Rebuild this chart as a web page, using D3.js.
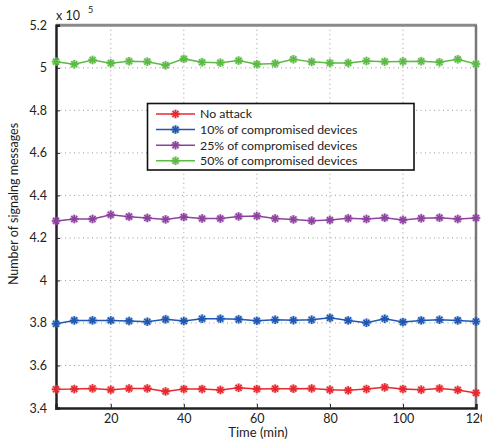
<!DOCTYPE html>
<html><head><meta charset="utf-8">
<script src="https://cdn.jsdelivr.net/npm/d3@7"></script>
<style>body{margin:0;background:#fff}svg{display:block}text{font-family:Lato,"Open Sans",sans-serif;fill:#222}</style>
</head><body><svg id="c" width="482" height="443"></svg>
<script>
const times = [5,10,15,20,25,30,35,40,45,50,55,60,65,70,75,80,85,90,95,100,105,110,115,120];
const noAttack = [3.488,3.489,3.492,3.486,3.492,3.492,3.478,3.489,3.489,3.485,3.495,3.489,3.491,3.491,3.492,3.486,3.483,3.489,3.497,3.489,3.486,3.492,3.485,3.471];
const comp10 = [3.796,3.812,3.812,3.812,3.809,3.806,3.817,3.809,3.820,3.820,3.817,3.810,3.815,3.813,3.815,3.824,3.812,3.801,3.820,3.804,3.812,3.815,3.812,3.807];
const comp25 = [4.280,4.289,4.289,4.309,4.300,4.294,4.287,4.298,4.291,4.291,4.301,4.303,4.291,4.287,4.281,4.284,4.292,4.289,4.295,4.284,4.292,4.295,4.289,4.294];
const comp50 = [5.029,5.017,5.037,5.022,5.031,5.029,5.012,5.042,5.026,5.024,5.034,5.017,5.020,5.040,5.028,5.023,5.023,5.032,5.029,5.030,5.031,5.026,5.040,5.018];
const seriesNames = ["No attack","10% of compromised devices","25% of compromised devices","50% of compromised devices"];
const seriesColors = ["#e8282f","#1f58b2","#8e42a0","#5cbb45"];
const xTicks = [20,40,60,80,100,120];
const yTicks = [3.4,3.6,3.8,4,4.2,4.4,4.6,4.8,5,5.2];

const svg = d3.select("#c");
const L=56, R=476, T=25.3, B=408;
const x = d3.scaleLinear().domain([5,120]).range([L,R]);
const y = d3.scaleLinear().domain([3.4,5.2]).range([B,T]);

// grid
const g = svg.append("g");
g.selectAll(".gx").data(xTicks.filter(t=>t<120)).enter().append("line")
  .attr("x1",d=>x(d)).attr("x2",d=>x(d)).attr("y1",T).attr("y2",B)
  .attr("stroke","#999").attr("stroke-width",1).attr("stroke-dasharray","1,3.5");
g.selectAll(".gy").data(yTicks.filter(t=>t>3.4&&t<5.2)).enter().append("line")
  .attr("x1",L).attr("x2",R).attr("y1",d=>y(d)).attr("y2",d=>y(d))
  .attr("stroke","#999").attr("stroke-width",1).attr("stroke-dasharray","1,3.5");

// frame: top/right gray
svg.append("line").attr("x1",L).attr("x2",R+1).attr("y1",T).attr("y2",T).attr("stroke","#8a8a8a").attr("stroke-width",3);
svg.append("line").attr("x1",R).attr("x2",R).attr("y1",T).attr("y2",B).attr("stroke","#777").attr("stroke-width",2.5);

// axes
const yAxis = d3.axisLeft(y).tickValues(yTicks).tickSize(-4).tickPadding(9).tickFormat(d3.format("~g"));
const ya = svg.append("g").attr("transform",`translate(${L},0)`).call(yAxis);
const xAxis = d3.axisBottom(x).tickValues(xTicks).tickSize(-4).tickPadding(6).tickFormat(d3.format("d"));
const xa = svg.append("g").attr("transform",`translate(0,${B})`).call(xAxis);
[ya,xa].forEach(a=>{
  a.select(".domain").attr("stroke","#222").attr("stroke-width",2.5);
  a.selectAll(".tick line").attr("stroke","#222").attr("stroke-width",1);
  a.selectAll(".tick text").attr("font-size",12.5).attr("fill","#222").style("font-family","Lato,'Open Sans',sans-serif");
});

// exponent label
const ex = svg.append("text").attr("x",56).attr("y",20).attr("font-size",12.5);
ex.append("tspan").text("x 10");
svg.append("text").attr("x",88).attr("y",13).attr("font-size",9).text("5");

// axis titles
svg.append("text").attr("x",258).attr("y",437).attr("text-anchor","middle").attr("font-size",13).text("Time (min)");
svg.append("text").attr("transform","translate(18,204) rotate(-90)").attr("text-anchor","middle").attr("font-size",12.5).text("Number of signalng messages");

function star(sel, cx, cy, color){
  const r=4.2;
  const gg = sel.append("g").attr("transform",`translate(${cx},${cy})`);
  gg.append("circle").attr("r",4.5).attr("fill",color).attr("opacity",0.3);
  [0,45,90,135].forEach(a=>{
    const rad=a*Math.PI/180;
    gg.append("line").attr("x1",-r*Math.cos(rad)).attr("y1",-r*Math.sin(rad))
      .attr("x2",r*Math.cos(rad)).attr("y2",r*Math.sin(rad))
      .attr("stroke",color).attr("stroke-width",1.6);
  });
  gg.append("circle").attr("r",2).attr("fill",color);
}

const allSeries=[noAttack,comp10,comp25,comp50];
const line = d3.line().x((d,i)=>x(times[i])).y(d=>y(d));
allSeries.forEach((s,k)=>{
  svg.append("path").datum(s).attr("d",line).attr("fill","none").attr("stroke",seriesColors[k]).attr("stroke-width",1.5);
  const mg = svg.append("g");
  s.forEach((v,i)=>star(mg,x(times[i]),y(v),seriesColors[k]));
});

// legend
const lg = svg.append("g");
lg.append("rect").attr("x",147.5).attr("y",103.5).attr("width",266.5).attr("height",66.5).attr("fill","#fff").attr("stroke","#111").attr("stroke-width",1.6);
seriesNames.forEach((n,k)=>{
  const yy = 114 + k*15.6;
  lg.append("line").attr("x1",156).attr("x2",195).attr("y1",yy).attr("y2",yy).attr("stroke",seriesColors[k]).attr("stroke-width",1.5);
  star(lg,175.5,yy,seriesColors[k]);
  lg.append("text").attr("x",200).attr("y",yy+4.3).attr("font-size",12.3).text(n);
});
</script></body></html>
